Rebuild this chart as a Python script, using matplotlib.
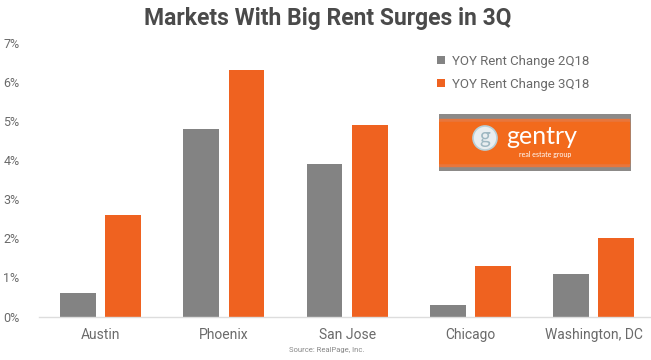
import matplotlib
matplotlib.use("Agg")
import matplotlib.pyplot as plt
from matplotlib.patches import Rectangle, Circle

categories = ["Austin", "Phoenix", "San Jose", "Chicago", "Washington, DC"]
series_names = ["YOY Rent Change 2Q18", "YOY Rent Change 3Q18"]
change_2q18 = [0.6, 4.8, 3.9, 0.3, 1.1]
change_3q18 = [2.6, 6.3, 4.9, 1.3, 2.0]
y_ticks = [0, 1, 2, 3, 4, 5, 6, 7]
y_tick_labels = ["0%", "1%", "2%", "3%", "4%", "5%", "6%", "7%"]

GRAY = "#838383"
ORANGE = "#EF6220"
TEXT = "#6a6a6a"

W, H = 651, 360
fig = plt.figure(figsize=(W / 100, H / 100), dpi=100)
fig.patch.set_facecolor("white")

def fx(px):
    return px / W

def fy(py):
    return 1 - py / H

ax = fig.add_axes([fx(39), fy(316.5), fx(651) - fx(39), fy(43) - fy(316.5)])
x = list(range(len(categories)))
bw = 0.29
off = 0.183
ax.bar([i - off for i in x], change_2q18, width=bw, color=GRAY, label=series_names[0])
ax.bar([i + off for i in x], change_3q18, width=bw, color=ORANGE, label=series_names[1])

ax.set_xlim(-0.5, -0.5 + 612 / 123.25)
ax.set_ylim(0, 7)
ax.set_yticks(y_ticks)
ax.set_yticklabels(y_tick_labels, fontsize=9, color=TEXT, family="Roboto")
ax.set_xticks(x)
ax.set_xticklabels(categories, fontsize=10, color=TEXT, family="Roboto")
ax.tick_params(axis="both", length=0)
ax.tick_params(axis="y", pad=14)
ax.tick_params(axis="x", pad=8)
for s in ["top", "right", "left"]:
    ax.spines[s].set_visible(False)
ax.spines["bottom"].set_color("#dddddd")
ax.spines["bottom"].set_linewidth(1)

leg = ax.legend(loc="upper left", bbox_to_anchor=(fx(450) - fx(39), 1.0 + 0.0),
                bbox_transform=ax.transAxes, frameon=False,
                handlelength=0.6, handleheight=0.6, handletextpad=0.5, labelspacing=0.75,
                prop={"family": "Roboto", "size": 9.5})
for t in leg.get_texts():
    t.set_color(TEXT)

fig.text(fx(328), fy(19), "Markets With Big Rent Surges in 3Q", ha="center", va="center",
         fontsize=16.5, fontweight="bold", color="#4a4a4a", family="Roboto")
fig.text(fx(327), fy(350), "Source: RealPage, Inc.", ha="center", va="center",
         fontsize=5.5, color="#888888", family="Roboto")

# logo
lax = fig.add_axes([fx(439), fy(171), fx(631) - fx(439), fy(114) - fy(171)])
lax.set_xlim(439, 631)
lax.set_ylim(171, 114)
lax.axis("off")
lax.add_patch(Rectangle((439, 114), 192, 57, color="#8c8a88"))
lax.add_patch(Rectangle((439, 119), 190, 47, color="#e8763c"))
lax.add_patch(Rectangle((439, 122), 190, 41, color="#f26a1c"))
lax.add_patch(Circle((485, 138), 12, facecolor="#e9eef0", edgecolor="#b8d0d8", linewidth=1.2))
lax.text(485, 137, "g", ha="center", va="center", fontsize=15, color="#9fb8c2", family="Lato")
lax.text(506, 137, "gentry", ha="left", va="center", fontsize=18, color="white",
         family="Lato")
lax.text(545, 155, "real estate group", ha="center", va="center", fontsize=5, color="white", family="Lato")

fig.savefig("out.png", dpi=100, facecolor="white")
